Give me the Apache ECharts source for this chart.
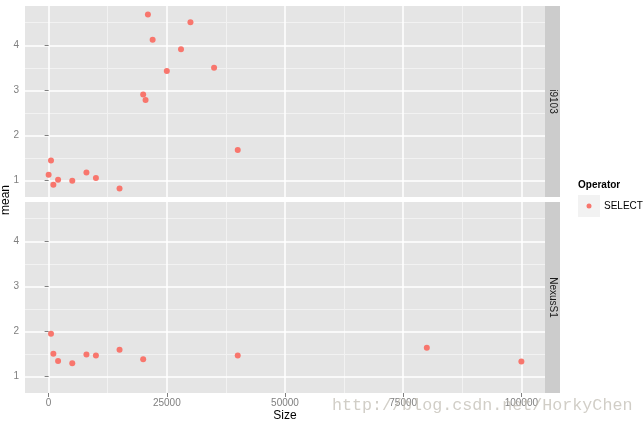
<!DOCTYPE html>
<html>
<head>
<meta charset="utf-8">
<script src="https://cdn.jsdelivr.net/npm/echarts@6/dist/echarts.min.js"></script>
<style>html,body{margin:0;padding:0;background:#fff}#c{width:643px;height:426px}</style>
</head>
<body>
<div id="c"></div>
<script>
// ---- data ----
var panels = ['i9103', 'NexusS1'];
var sizeI9103 = [0, 500, 1000, 2000, 5000, 8000, 10000, 15000, 20000, 20500, 21000, 22000, 25000, 28000, 30000, 35000, 40000];
var meanI9103 = [1.13, 1.45, 0.91, 1.02, 1.00, 1.18, 1.06, 0.83, 2.91, 2.79, 4.68, 4.12, 3.43, 3.91, 4.51, 3.50, 1.68];
var sizeNexus = [500, 1000, 2000, 5000, 8000, 10000, 15000, 20000, 40000, 80000, 100000];
var meanNexus = [1.95, 1.51, 1.35, 1.30, 1.49, 1.47, 1.60, 1.39, 1.47, 1.64, 1.34];
var xTicks = [0, 25000, 50000, 75000, 100000];
var xMinor = [12500, 37500, 62500, 87500];
var yTicks = [1, 2, 3, 4];
var yMinor = [1.5, 2.5, 3.5, 4.5];
var xRange = [-5000, 105000];
var yRange = [0.64, 4.87];

function pairs(xs, ys) { return xs.map(function (x, i) { return [x, ys[i]]; }); }

var chart = echarts.init(document.getElementById('c'), null, { renderer: 'canvas' });

var grids = [
  { left: 25, top: 6, width: 520, height: 191, backgroundColor: '#E5E5E5', show: true, borderWidth: 0 },
  { left: 25, top: 202, width: 520, height: 191, backgroundColor: '#E5E5E5', show: true, borderWidth: 0 }
];

var xAxes = [], yAxes = [];
[0, 1].forEach(function (g) {
  // minor grid axes
  xAxes.push({
    type: 'value', gridIndex: g, position: 'bottom', min: xRange[0], max: xRange[1], z: 0,
    axisLine: { show: false }, axisLabel: { show: false },
    axisTick: { show: false, customValues: xMinor },
    splitLine: { show: true, lineStyle: { color: '#F2F2F2', width: 1 } }
  });
  yAxes.push({
    type: 'value', gridIndex: g, position: 'left', min: yRange[0], max: yRange[1], z: 0,
    axisLine: { show: false }, axisLabel: { show: false },
    axisTick: { show: false, customValues: yMinor },
    splitLine: { show: true, lineStyle: { color: '#F2F2F2', width: 1 } }
  });
  // major axes
  xAxes.push({
    type: 'value', gridIndex: g, position: 'bottom', min: xRange[0], max: xRange[1], z: 1,
    name: g === 1 ? 'Size' : '', nameLocation: 'middle', nameGap: 17,
    nameTextStyle: { color: '#000', fontSize: 12, fontFamily: 'Liberation Sans' },
    axisLine: { show: false },
    axisLabel: { show: g === 1, customValues: xTicks, formatter: function (v) { return String(v); }, hideOverlap: false,
      color: '#7F7F7F', fontSize: 10, fontFamily: 'Liberation Sans', margin: 5 },
    axisTick: { show: g === 1, customValues: xTicks, length: 4, lineStyle: { color: '#7F7F7F' } },
    splitLine: { show: true, lineStyle: { color: '#FFFFFF', width: 1.5 } }
  });
  yAxes.push({
    type: 'value', gridIndex: g, position: 'left', min: yRange[0], max: yRange[1], z: 1,
    axisLine: { show: false },
    axisLabel: { show: true, customValues: yTicks, formatter: function (v) { return String(v); }, hideOverlap: false,
      color: '#7F7F7F', fontSize: 10, fontFamily: 'Liberation Sans', margin: 6 },
    axisTick: { show: true, customValues: yTicks, length: 4, lineStyle: { color: '#7F7F7F' } },
    splitLine: { show: true, lineStyle: { color: '#FFFFFF', width: 1.5 } }
  });
});

var pointStyle = { color: '#F8766D', opacity: 1 };
var series = [
  { type: 'scatter', name: 'SELECT', xAxisIndex: 1, yAxisIndex: 1, data: pairs(sizeI9103, meanI9103), symbolSize: 6, itemStyle: pointStyle, z: 5, silent: true },
  { type: 'scatter', name: 'SELECT', xAxisIndex: 3, yAxisIndex: 3, data: pairs(sizeNexus, meanNexus), symbolSize: 6, itemStyle: pointStyle, z: 5, silent: true }
];

var graphic = [
  // strips
  { type: 'rect', shape: { x: 545, y: 6, width: 15, height: 191 }, style: { fill: '#CCCCCC' } },
  { type: 'rect', shape: { x: 545, y: 202, width: 15, height: 191 }, style: { fill: '#CCCCCC' } },
  { type: 'text', x: 552.5, y: 101.5, rotation: -Math.PI / 2, style: { text: panels[0], fill: '#1A1A1A', fontSize: 10, fontFamily: 'Liberation Sans', align: 'center', verticalAlign: 'middle' } },
  { type: 'text', x: 552.5, y: 297.5, rotation: -Math.PI / 2, style: { text: panels[1], fill: '#1A1A1A', fontSize: 10, fontFamily: 'Liberation Sans', align: 'center', verticalAlign: 'middle' } },
  // y axis title
  { type: 'text', x: 6, y: 200, rotation: Math.PI / 2, style: { text: 'mean', fill: '#000', fontSize: 12, fontFamily: 'Liberation Sans', align: 'center', verticalAlign: 'middle' } },
  // legend
  { type: 'text', x: 578, y: 185, style: { text: 'Operator', fill: '#000', fontSize: 10, fontWeight: 'bold', fontFamily: 'Liberation Sans', align: 'left', verticalAlign: 'middle' } },
  { type: 'rect', shape: { x: 578, y: 195, width: 22, height: 22 }, style: { fill: '#F2F2F2' } },
  { type: 'circle', shape: { cx: 589, cy: 206, r: 2.5 }, style: { fill: '#F8766D' } },
  { type: 'text', x: 604, y: 206, style: { text: 'SELECT', fill: '#000', fontSize: 10, fontFamily: 'Liberation Sans', align: 'left', verticalAlign: 'middle' } },
  // watermark
  { type: 'text', x: 332, y: 406, z: 100, style: { text: 'http://blog.csdn.net/HorkyChen', fill: 'rgba(190,185,175,0.7)', fontSize: 16.7, fontFamily: 'Liberation Mono', align: 'left', verticalAlign: 'middle' } }
];

chart.setOption({
  animation: false,
  backgroundColor: '#FFFFFF',
  grid: grids,
  xAxis: xAxes,
  yAxis: yAxes,
  series: series,
  graphic: graphic
});
</script>
</body>
</html>
